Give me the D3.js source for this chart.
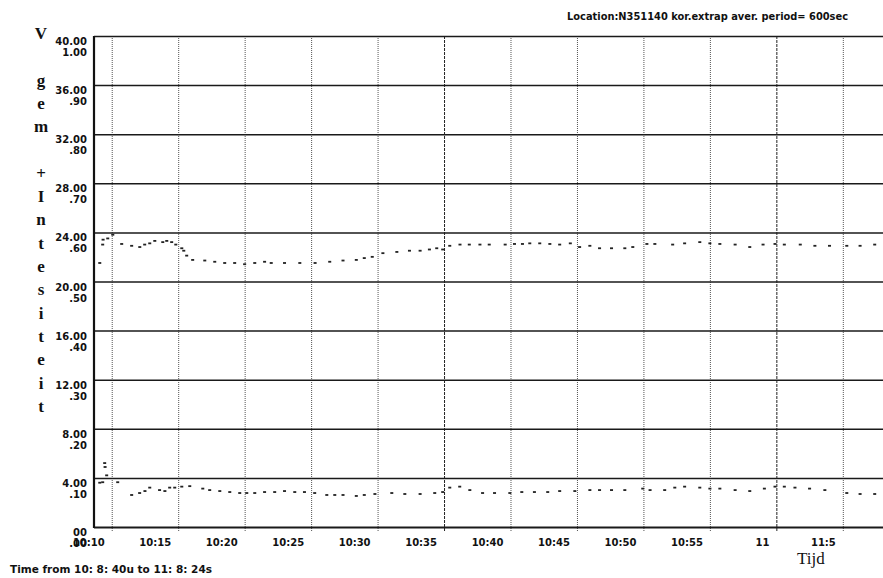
<!DOCTYPE html>
<html lang="nl">
    <head>
        <meta charset="utf-8">
        <title>V gem + Intensiteit</title>
        <script src="https://d3js.org/d3.v7.min.js"></script>
        <style type="text/css">
            body { margin: 0; background: white; }
            .lbl { font-family: "DejaVu Sans", sans-serif; font-size: 10px; font-weight: bold; fill: #111; }
            .ytitle { font-family: "Liberation Serif", serif; font-size: 17px; font-weight: bold; fill: #111; }
            .grid path { display: none; }
        </style>
    </head>
    <body>
        <div id="chart"></div>
        <script type="text/javascript">
        //CONSTANTS
            const w = 883;
            const h = 578;

        //DATA (time = minutes after 10:00)
            const xTickMinutes = [10, 15, 20, 25, 30, 35, 40, 45, 50, 55, 60, 65];
            const xTickLabels = ["10:10", "10:15", "10:20", "10:25", "10:30", "10:35",
                                 "10:40", "10:45", "10:50", "10:55", "11", "11:5"];
            const yTicks = [0, 4, 8, 12, 16, 20, 24, 28, 32, 36, 40];
            const yLabelsSpeed = ["00", "4.00", "8.00", "12.00", "16.00", "20.00",
                                  "24.00", "28.00", "32.00", "36.00", "40.00"];
            const yLabelsInt = [".00", ".10", ".20", ".30", ".40", ".50",
                                ".60", ".70", ".80", ".90", "1.00"];

            // V gem (left scale 0-40)
            const speedTime = [9.10, 9.32, 9.35, 9.70, 10.08, 10.75, 11.50, 12.11, 12.48, 12.86,
                13.24, 13.84, 14.14, 14.51, 14.82, 15.27, 15.42, 15.64, 16.09, 17.0,
                17.75, 18.5, 19.25, 20.0, 20.76, 21.5, 22.0, 23.0, 24.15, 25.3,
                26.4, 27.4, 28.4, 29.0, 29.6, 30.4, 31.45, 32.4, 33.2, 33.9,
                34.45, 34.9, 35.43, 36.2, 36.9, 37.7, 38.4, 39.6, 40.3, 40.9,
                41.45, 42.2, 42.96, 43.7, 44.5, 45.2, 45.97, 46.7, 47.6, 48.6,
                49.2, 50.26, 50.86, 52.2, 53.1, 54.24, 55.0, 55.75, 56.9, 58.0,
                59.0, 59.9, 60.6, 61.8, 62.9, 64.0, 65.3, 66.3, 67.4];
            const speedValue = [21.5, 23.0, 23.4, 23.5, 23.8, 23.05, 22.9, 22.8, 23.0, 23.1,
                23.3, 23.2, 23.3, 23.2, 23.0, 22.7, 22.5, 22.1, 21.75, 21.7,
                21.6, 21.5, 21.5, 21.4, 21.5, 21.6, 21.5, 21.5, 21.5, 21.5,
                21.6, 21.7, 21.75, 21.9, 22.0, 22.3, 22.4, 22.5, 22.5, 22.6,
                22.7, 22.6, 22.9, 23.0, 23.0, 23.0, 23.0, 23.0, 23.05, 23.05,
                23.1, 23.1, 23.05, 23.0, 23.1, 22.8, 22.9, 22.7, 22.7, 22.7,
                22.8, 23.05, 23.05, 23.0, 23.1, 23.2, 23.1, 23.05, 23.0, 22.8,
                23.0, 23.05, 23.0, 23.0, 22.9, 22.9, 22.9, 22.9, 23.0];

            // Intensiteit (right-hand values .00-1.00, drawn on same grid)
            const intTime = [9.10, 9.32, 9.47, 9.50, 9.62, 10.45, 11.5, 12.1, 12.5, 12.86,
                13.6, 14.0, 14.36, 14.74, 15.27, 15.87, 16.85, 17.37, 18.13, 18.88,
                19.63, 20.16, 20.76, 21.5, 22.26, 23.0, 23.77, 24.5, 25.27, 26.18,
                26.78, 27.4, 28.4, 29.0, 29.8, 31.07, 32.05, 33.2, 34.3, 34.9,
                35.43, 36.18, 36.94, 37.9, 38.8, 39.95, 40.85, 41.8, 42.8, 43.7,
                44.84, 45.97, 46.7, 47.6, 48.6, 49.95, 50.5, 51.6, 52.36, 53.1,
                54.24, 55.0, 55.75, 56.9, 58.0, 59.1, 59.9, 60.6, 61.4, 62.5,
                63.65, 65.3, 66.3, 67.4];
            const intValue = [.090, .091, .130, .122, .105, .091, .065, .069, .073, .080,
                .075, .073, .080, .080, .082, .083, .078, .075, .073, .071,
                .069, .069, .069, .071, .071, .073, .071, .071, .069, .065,
                .065, .065, .063, .065, .067, .069, .067, .067, .069, .071,
                .080, .082, .075, .069, .069, .069, .071, .071, .071, .073,
                .073, .075, .075, .075, .075, .078, .075, .075, .080, .082,
                .080, .078, .078, .075, .073, .078, .082, .082, .080, .078,
                .075, .069, .067, .067];

            const speed = speedTime.map((t, i) => ({t: t, v: speedValue[i]}));
            const intens = intTime.map((t, i) => ({t: t, v: intValue[i]}));

        //SCALES
            const xScale = d3.scaleLinear()
                            .domain([8 + 40 / 60, 68.4])
                            .range([94, 888]);
            const yScale = d3.scaleLinear()
                            .domain([0, 40])
                            .range([527, 36]);
            const yIntScale = d3.scaleLinear()
                            .domain([0, 1])
                            .range([527, 36]);

            const svg = d3.select("#chart")
                    .append("svg")
                    .attr("width", w)
                    .attr("height", h);

        //VERTICAL GRID (dotted) + ticks below axis
            const xGrid = svg.append("g")
                .attr("class", "grid")
                .attr("transform", "translate(0," + yScale(0) + ")")
                .call(d3.axisBottom(xScale)
                        .tickValues(xTickMinutes)
                        .tickSizeInner(-(yScale(0) - yScale(40)))
                        .tickSizeOuter(0)
                        .tickFormat(""));
            xGrid.selectAll(".tick line")
                .attr("y2", -(yScale(0) - yScale(40)))
                .attr("y1", 4)
                .attr("stroke", d => (d === 35 || d === 60) ? "#222" : "#555")
                .attr("stroke-width", 1)
                .attr("stroke-dasharray", d => (d === 35 || d === 60) ? "3,1" : "1,1");

        //HORIZONTAL GRID
            const yGrid = svg.append("g")
                .attr("class", "grid")
                .attr("transform", "translate(" + xScale.range()[0] + ",0)")
                .call(d3.axisLeft(yScale)
                        .tickValues(yTicks)
                        .tickSizeInner(-(w - xScale.range()[0]))
                        .tickSizeOuter(0)
                        .tickFormat(""));
            yGrid.selectAll(".tick line")
                .attr("stroke", "#1a1a1a")
                .attr("stroke-width", d => d === 0 ? 2 : 1.5);

        //LEFT AXIS LINE
            svg.append("line")
                .attr("x1", xScale.range()[0]).attr("x2", xScale.range()[0])
                .attr("y1", yScale(40)).attr("y2", yScale(0) + 1)
                .attr("stroke", "#111")
                .attr("stroke-width", 2.2);

        //Y LABELS (two rows: speed / intensity)
            svg.selectAll(".ylab1")
                .data(yTicks)
                .enter()
                .append("text")
                .attr("class", "lbl")
                .attr("x", 87)
                .attr("y", d => yScale(d) + 9)
                .attr("text-anchor", "end")
                .text((d, i) => yLabelsSpeed[i]);
            svg.selectAll(".ylab2")
                .data(yTicks)
                .enter()
                .append("text")
                .attr("class", "lbl")
                .attr("x", 87)
                .attr("y", d => yScale(d) + 20)
                .attr("text-anchor", "end")
                .text((d, i) => yLabelsInt[i]);

        //X LABELS
            svg.selectAll(".xlab")
                .data(xTickMinutes)
                .enter()
                .append("text")
                .attr("class", "lbl")
                .attr("x", d => xScale(d) - 7)
                .attr("y", 546)
                .attr("text-anchor", "end")
                .text((d, i) => xTickLabels[i]);

        //DATA POINTS
            svg.append("g").selectAll("rect")
                .data(speed)
                .enter()
                .append("rect")
                .attr("x", d => xScale(d.t) - 1.5)
                .attr("y", d => yScale(d.v) - 1)
                .attr("width", 3)
                .attr("height", 1.8)
                .attr("fill", "#222");

            svg.append("g").selectAll("rect")
                .data(intens)
                .enter()
                .append("rect")
                .attr("x", d => xScale(d.t) - 1.5)
                .attr("y", d => yIntScale(d.v) - 1)
                .attr("width", 3)
                .attr("height", 1.8)
                .attr("fill", "#222");

        //TITLES
            const yTitle = "V gem +Intesiteit".split("");
            svg.selectAll(".ytitle")
                .data(yTitle)
                .enter()
                .append("text")
                .attr("class", "ytitle")
                .attr("x", 41)
                .attr("y", (d, i) => 39 + i * 23.3)
                .attr("text-anchor", "middle")
                .text(d => d);

            svg.append("text")
                .attr("x", 797)
                .attr("y", 564)
                .attr("font-family", "Liberation Serif, serif")
                .attr("font-size", "17px")
                .attr("fill", "#111")
                .text("Tijd");

            svg.append("text")
                .attr("class", "lbl")
                .attr("x", 567)
                .attr("y", 20)
                .attr("font-size", "9px")
                .attr("textLength", 281)
                .attr("lengthAdjust", "spacingAndGlyphs")
                .text("Location:N351140 kor.extrap aver. period= 600sec");

            svg.append("text")
                .attr("class", "lbl")
                .attr("x", 10)
                .attr("y", 573)
                .attr("font-size", "8px")
                .attr("textLength", 202)
                .attr("lengthAdjust", "spacingAndGlyphs")
                .text("Time from 10: 8: 40u to 11: 8: 24s");
        </script>
    </body>
</html>
